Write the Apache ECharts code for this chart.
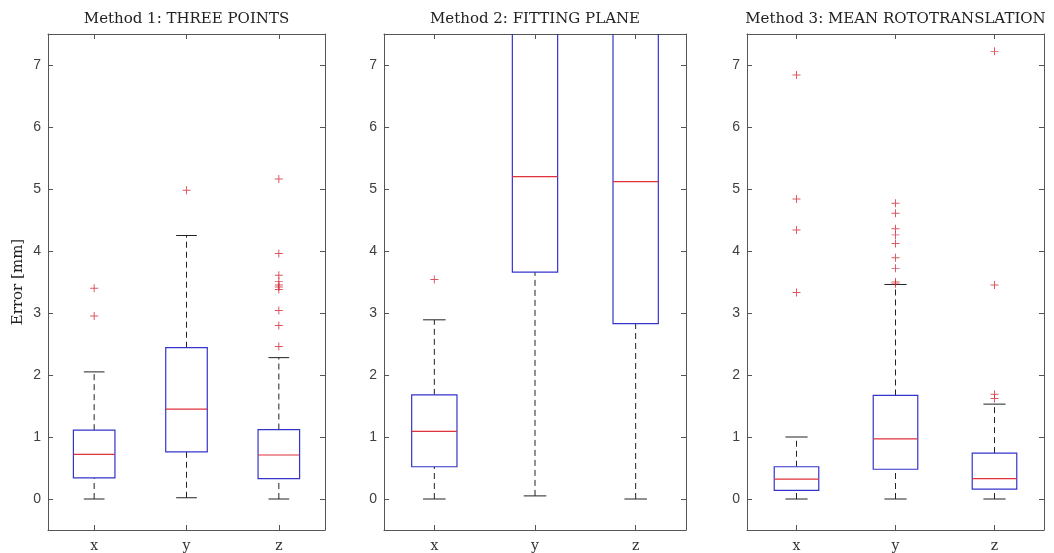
<!DOCTYPE html>
<html><head><meta charset="utf-8">
<script src="https://cdn.jsdelivr.net/npm/echarts@6/dist/echarts.min.js"></script>
<style>html,body{margin:0;padding:0;background:#fff}#c{width:1054px;height:553px}</style>
</head><body><div id="c"></div>
<script>
const categories = ['x', 'y', 'z'];
const titles = ['Method 1: THREE POINTS', 'Method 2: FITTING PLANE', 'Method 3: MEAN ROTOTRANSLATION'];
const yTicks = [0, 1, 2, 3, 4, 5, 6, 7];
const yMin = -0.5, yMax = 7.5;
// [lower whisker, Q1, median, Q3, upper whisker]
const m1Stats = [[0.00, 0.34, 0.72, 1.11, 2.05], [0.02, 0.76, 1.45, 2.44, 4.25], [0.00, 0.33, 0.71, 1.12, 2.28]];
const m1Outliers = [[0, 3.40], [0, 2.95], [1, 4.98], [2, 2.46], [2, 2.80], [2, 3.04], [2, 3.38], [2, 3.42], [2, 3.45], [2, 3.51], [2, 3.61], [2, 3.96], [2, 5.16]];
const m2Stats = [[0.00, 0.52, 1.09, 1.68, 2.89], [0.05, 3.66, 5.20, 9.0, 14.0], [0.00, 2.83, 5.12, 9.5, 16.0]];
const m2Outliers = [[0, 3.54]];
const m3Stats = [[0.00, 0.14, 0.32, 0.52, 1.00], [0.00, 0.48, 0.97, 1.67, 3.46], [0.00, 0.16, 0.33, 0.74, 1.53]];
const m3Outliers = [[0, 3.33], [0, 4.34], [0, 4.84], [0, 6.84], [1, 3.47], [1, 3.50], [1, 3.72], [1, 3.89], [1, 4.12], [1, 4.26], [1, 4.36], [1, 4.61], [1, 4.77], [2, 1.62], [2, 1.69], [2, 3.45], [2, 7.22]];

const allStats = [m1Stats, m2Stats, m3Stats];
const allOutliers = [m1Outliers, m2Outliers, m3Outliers];

const gridPos = [{left: 48, width: 277}, {left: 384, width: 302}, {left: 747, width: 297}];
const gridTop = 34, gridH = 499;
const axisColor = '#555';
const serif = '"DejaVu Serif", "Liberation Serif", serif';
const sans = '"Liberation Sans", Arial, sans-serif';
const plusPath = 'path://M4.4,0H5.6V4.4H10V5.6H5.6V10H4.4V5.6H0V4.4H4.4Z';

function renderBox(params, api) {
  const c = api.value(0);
  const x = api.coord([c, 0])[0];
  const band = api.size([1, 0])[0];
  const bw = band * 0.225, cw = band * 0.112;
  const y = i => api.coord([c, api.value(i)])[1];
  const lo = y(1), q1 = y(2), med = y(3), q3 = y(4), hi = y(5);
  const wStyle = {stroke: '#222', lineWidth: 1, lineDash: [6, 4]};
  const cStyle = {stroke: '#222', lineWidth: 1};
  return {type: 'group', children: [
    {type: 'line', shape: {x1: x, y1: lo, x2: x, y2: q1}, style: wStyle},
    {type: 'line', shape: {x1: x, y1: q3, x2: x, y2: hi}, style: wStyle},
    {type: 'line', shape: {x1: x - cw, y1: lo, x2: x + cw, y2: lo}, style: cStyle},
    {type: 'line', shape: {x1: x - cw, y1: hi, x2: x + cw, y2: hi}, style: cStyle},
    {type: 'rect', shape: {x: x - bw, y: q3, width: 2 * bw, height: q1 - q3}, style: {fill: 'none', stroke: '#3434cc', lineWidth: 1.2}},
    {type: 'line', shape: {x1: x - bw, y1: med, x2: x + bw, y2: med}, style: {stroke: '#e0303a', lineWidth: 1.2}}
  ]};
}

const grid = [], xAxis = [], yAxis = [], series = [], title = [];
gridPos.forEach((g, k) => {
  grid.push({left: g.left, width: g.width, top: gridTop, height: gridH, containLabel: false});
  title.push({text: titles[k], left: g.left + g.width / 2, textAlign: 'center', top: 12, padding: 0,
    textStyle: {fontFamily: serif, fontSize: 15, fontWeight: 'normal', color: '#222'}});
  const xb = {type: 'category', data: categories, gridIndex: k, boundaryGap: true,
    axisLine: {show: true, onZero: false, lineStyle: {color: axisColor}},
    axisTick: {show: true, inside: true, alignWithLabel: true, length: 5, lineStyle: {color: axisColor}},
    splitLine: {show: false}};
  xAxis.push(Object.assign({}, xb, {position: 'bottom',
    axisLabel: {show: true, margin: 9, fontFamily: serif, fontSize: 14, color: '#333'}}));
  xAxis.push(Object.assign({}, xb, {position: 'top', axisLabel: {show: false}}));
  const yb = {type: 'value', gridIndex: k, min: yMin, max: yMax,
    axisLine: {show: true, onZero: false, lineStyle: {color: axisColor}},
    axisTick: {show: true, inside: true, length: 5, customValues: yTicks, lineStyle: {color: axisColor}},
    splitLine: {show: false}};
  const yl = Object.assign({}, yb, {position: 'left',
    axisLabel: {show: true, customValues: yTicks, margin: 7, fontFamily: sans, fontSize: 14, color: '#404040'}});
  if (k === 0) {
    Object.assign(yl, {name: 'Error [mm]', nameLocation: 'middle', nameGap: 22,
      nameTextStyle: {fontFamily: serif, fontSize: 15, color: '#222'}});
  }
  yAxis.push(yl);
  yAxis.push(Object.assign({}, yb, {position: 'right', axisLabel: {show: false}}));
  series.push({type: 'custom', xAxisIndex: 2 * k, yAxisIndex: 2 * k, clip: true,
    renderItem: renderBox, encode: {x: 0, y: [1, 2, 3, 4, 5]},
    data: allStats[k].map((s, i) => [i].concat(s)), z: 2});
  series.push({type: 'scatter', xAxisIndex: 2 * k, yAxisIndex: 2 * k, clip: true,
    symbol: plusPath, symbolSize: 8, itemStyle: {color: '#d42a36'},
    data: allOutliers[k], z: 3, silent: true});
});

const chart = echarts.init(document.getElementById('c'), null, {renderer: 'canvas'});
chart.setOption({animation: false, backgroundColor: '#fff', title, grid, xAxis, yAxis, series});
</script></body></html>
